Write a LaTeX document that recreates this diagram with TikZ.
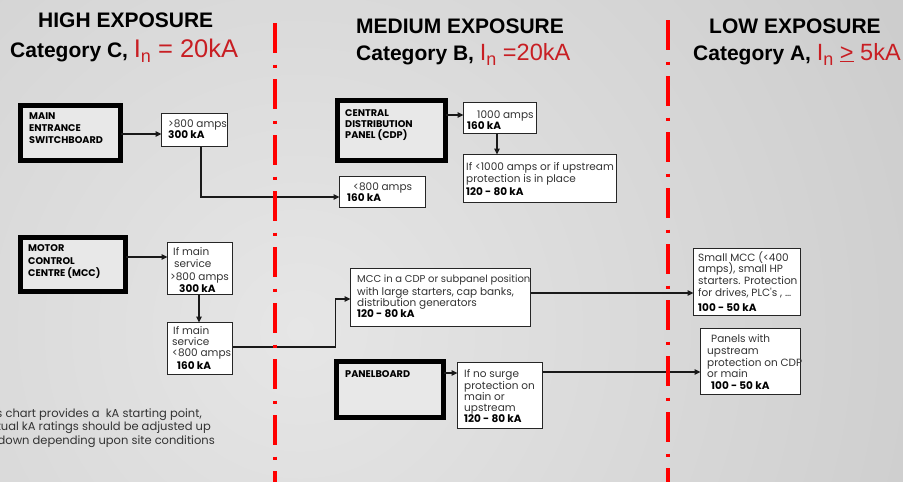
\documentclass[tikz,border=0pt]{standalone}
\usepackage{fontspec}
\setmainfont{Liberation Sans}
\newfontfamily\boxfont{Poppins}
\usetikzlibrary{arrows.meta,calc}
\definecolor{bgin}{HTML}{E6E6E6}
\definecolor{bgout}{HTML}{B2B2B2}
\definecolor{redtxt}{RGB}{200,30,35}
\definecolor{redline}{RGB}{255,0,0}
\definecolor{boxtxt}{HTML}{333333}
\definecolor{thickfill}{HTML}{E8E8E8}
\pgfdeclareradialshading{bgshade}{\pgfpoint{0bp}{0bp}}{color(0bp)=(bgin); color(50bp)=(bgout)}
\newcommand{\redIn}{I\raisebox{-5pt}{\fontsize{18}{18}\selectfont n}}
\tikzset{
  tbox/.style={draw=black, line width=5pt, fill=thickfill, inner sep=0pt, outer sep=0pt},
  pbox/.style={draw=black!85, line width=1.2pt, fill=white, inner sep=0pt, outer sep=0pt},
  arr/.style={draw=black!90, line width=1.1pt, -{Triangle[length=6pt,width=5.5pt]}},
  bt/.style={anchor=base west, inner sep=0pt, font=\boxfont\fontsize{10.5}{12}\selectfont, text=boxtxt},
  bb/.style={anchor=base west, inner sep=0pt, font=\boxfont\bfseries\fontsize{10.5}{12}\selectfont, text=black},
  bh/.style={anchor=base west, inner sep=0pt, font=\boxfont\bfseries\fontsize{9.7}{11}\selectfont, text=black},
  fn/.style={anchor=base east, inner sep=0pt, font=\boxfont\fontsize{11.5}{13}\selectfont, text=boxtxt},
  ttl/.style={anchor=base west, inner sep=0pt, font=\bfseries\fontsize{21}{24}\selectfont},
  sep/.style={draw=redline, line width=4pt, dash pattern=on 30pt off 11.5pt on 3pt off 11.5pt},
}
\begin{document}
\begin{tikzpicture}[x=1pt,y=-1pt]
\useasboundingbox (0,0) rectangle (903,482);
\begin{scope}
\clip (0,0) rectangle (903,482);
\shade[shading=bgshade] (300,330) circle (700);
% footnote (clipped at left edge, as in the reference)
\node[fn] (fn1) at (202,417) {This chart provides a \ kA starting point,};
\node[fn] (fn2) at (211,430.5) {Actual kA ratings should be adjusted up};
\node[fn] (fn3) at (215,444) {or down depending upon site conditions};
\end{scope}

% titles
\node[ttl] (th) at (38,27) {HIGH EXPOSURE};
\node[ttl] (tc) at (10,57) {Category C, {\color{redtxt}\mdseries\fontsize{25.5}{28}\selectfont \redIn\ = 20kA}};
\node[ttl] (mh) at (356,33) {MEDIUM EXPOSURE};
\node[ttl] (mc) at (356,60) {Category B, {\color{redtxt}\mdseries\fontsize{23.5}{28}\selectfont \redIn\ =20kA}};
\node[ttl] (lh) at (709,33) {LOW EXPOSURE};
\node[ttl] (lc) at (693,60) {Category A, {\color{redtxt}\mdseries\fontsize{23.5}{28}\selectfont \redIn\ \underline{>} 5kA}};

% thick boxes
\node[tbox, minimum width=100pt, minimum height=55pt] (mes) at (70.5,133) {};
\node[tbox, minimum width=108pt, minimum height=60pt] (cdp) at (391.5,130.5) {};
\node[tbox, minimum width=105pt, minimum height=54pt] (mcc) at (73,264.5) {};
\node[tbox, minimum width=107pt, minimum height=56pt] (pnl) at (390,389.5) {};

% plain boxes
\node[pbox, minimum width=66pt, minimum height=33pt] (b800) at (194.5,130) {};
\node[pbox, minimum width=73pt, minimum height=31pt] (b1000) at (500,118) {};
\node[pbox, minimum width=153pt, minimum height=48pt] (bup) at (540,178.5) {};
\node[pbox, minimum width=86pt, minimum height=31pt] (bl800) at (382.5,192) {};
\node[pbox, minimum width=65pt, minimum height=52pt] (bm1) at (200,268.5) {};
\node[pbox, minimum width=65pt, minimum height=52pt] (bm2) at (200,348.5) {};
\node[pbox, minimum width=180pt, minimum height=58pt] (bmcc) at (440.5,297.5) {};
\node[pbox, minimum width=85pt, minimum height=66pt] (bsurge) at (500,395.5) {};
\node[pbox, minimum width=107pt, minimum height=67pt] (bsmall) at (747,282) {};
\node[pbox, minimum width=100pt, minimum height=66pt] (bpanels) at (750.5,361.5) {};

% texts in thick boxes
\node[bh] (t1) at (29,119.5) {MAIN};
\node[bh] (t2) at (29,131) {ENTRANCE};
\node[bh] (t3) at (29,143) {SWITCHBOARD};
\node[bh] (t4) at (345,116.5) {CENTRAL};
\node[bh] (t5) at (345,127) {DISTRIBUTION};
\node[bh] (t6) at (345,138) {PANEL (CDP)};
\node[bh] (t7) at (28,251.5) {MOTOR};
\node[bh] (t8) at (28,264) {CONTROL};
\node[bh] (t9) at (28,276) {CENTRE (MCC)};
\node[bh] (t10) at (345,377.5) {PANELBOARD};

% texts in plain boxes
\node[bt] (u1) at (168,127) {>800 amps};
\node[bb] (u2) at (168,138.5) {300 kA};
\node[bt] (u3) at (477,118) {1000 amps};
\node[bb] (u4) at (467,129.5) {160 kA};
\node[bt] (u5) at (466,170) {If <1000 amps or if upstream};
\node[bt] (u6) at (466,182) {protection is in place};
\node[bb] (u7) at (466,195) {120 - 80 kA};
\node[bt] (u8) at (353,190) {<800 amps};
\node[bb] (u9) at (347,201) {160 kA};
\node[bt] (v1) at (173,255) {If main};
\node[bt] (v2) at (174,267) {service};
\node[bt] (v3) at (170,280) {>800 amps};
\node[bb] (v4) at (179,292.5) {300 kA};
\node[bt] (v5) at (173,334) {If main};
\node[bt] (v6) at (172,345) {service};
\node[bt] (v7) at (172,356) {<800 amps};
\node[bb] (v8) at (177,369.5) {160 kA};
\node[bt, font=\boxfont\fontsize{10}{12}\selectfont] (w1) at (357,282) {MCC in a CDP or subpanel position};
\node[bt] (w2) at (357,295) {with large starters, cap banks,};
\node[bt] (w3) at (357,306) {distribution generators};
\node[bb] (w4) at (357,317.5) {120 - 80 kA};
\node[bt] (x1) at (464,377) {If no surge};
\node[bt] (x2) at (464,389) {protection on};
\node[bt] (x3) at (464,400) {main or};
\node[bt] (x4) at (464,411) {upstream};
\node[bb] (x5) at (464,422.5) {120 - 80 kA};
\node[bt] (y1) at (698,261) {Small MCC (<400};
\node[bt] (y2) at (698,272) {amps), small HP};
\node[bt] (y3) at (698,284) {starters. Protection};
\node[bt] (y4) at (698,296) {for drives, PLC's , \dots};
\node[bb] (y5) at (698,311.5) {100 - 50 kA};
\node[bt] (z1) at (711,342) {Panels with};
\node[bt] (z2) at (707,354) {upstream};
\node[bt] (z3) at (707,366) {protection on CDP};
\node[bt] (z4) at (707,377) {or main};
\node[bb] (z5) at (711,389.5) {100 - 50 kA};

% connectors
\coordinate (c1) at ($(mes.east)+(0,1)$);
\draw[arr] (c1) -- (c1 -| b800.west);
\coordinate (c2) at ($(b800.south)+(6.5,0)$);
\coordinate (c2e) at ($(bl800.west)+(0,5)$);
\draw[arr] (c2) |- (c2e);
\coordinate (c3) at ($(b1000.west)+(0,-3)$);
\draw[arr] (c3 -| cdp.east) -- (c3);
\coordinate (c4) at ($(b1000.south)+(-3,0)$);
\draw[arr] (c4) -- (c4 |- bup.north);
\coordinate (c5) at ($(mcc.east)+(0,-7.5)$);
\draw[arr] (c5) -- (c5 -| bm1.west);
\coordinate (c6) at ($(bm1.south)+(-1,0)$);
\draw[arr] (c6) -- (c6 |- bm2.north);
\coordinate (c7) at ($(bm2.east)+(0,-1.5)$);
\coordinate (c7b) at ($(bmcc.west)+(0,1.5)$);
\draw[arr] (c7) -- ++(103,0) |- (c7b);
\coordinate (c8) at ($(bmcc.east)+(0,-4.5)$);
\draw[arr] (c8) -- (c8 -| bsmall.west);
\coordinate (c9) at ($(pnl.east)+(0,-16.5)$);
\draw[arr] (c9) -- (c9 -| bsurge.west);
\coordinate (c10) at ($(bsurge.east)+(0,-23.5)$);
\draw[arr] (c10) -- (c10 -| bpanels.west);

% red separators
\coordinate (s1a) at (275,23);
\coordinate (s1b) at (275,482);
\coordinate (s2a) at (668,20);
\coordinate (s2b) at (668,482);
\draw[sep] (s1a) -- (s1b);
\draw[sep] (s2a) -- (s2b);
\end{tikzpicture}
\end{document}
